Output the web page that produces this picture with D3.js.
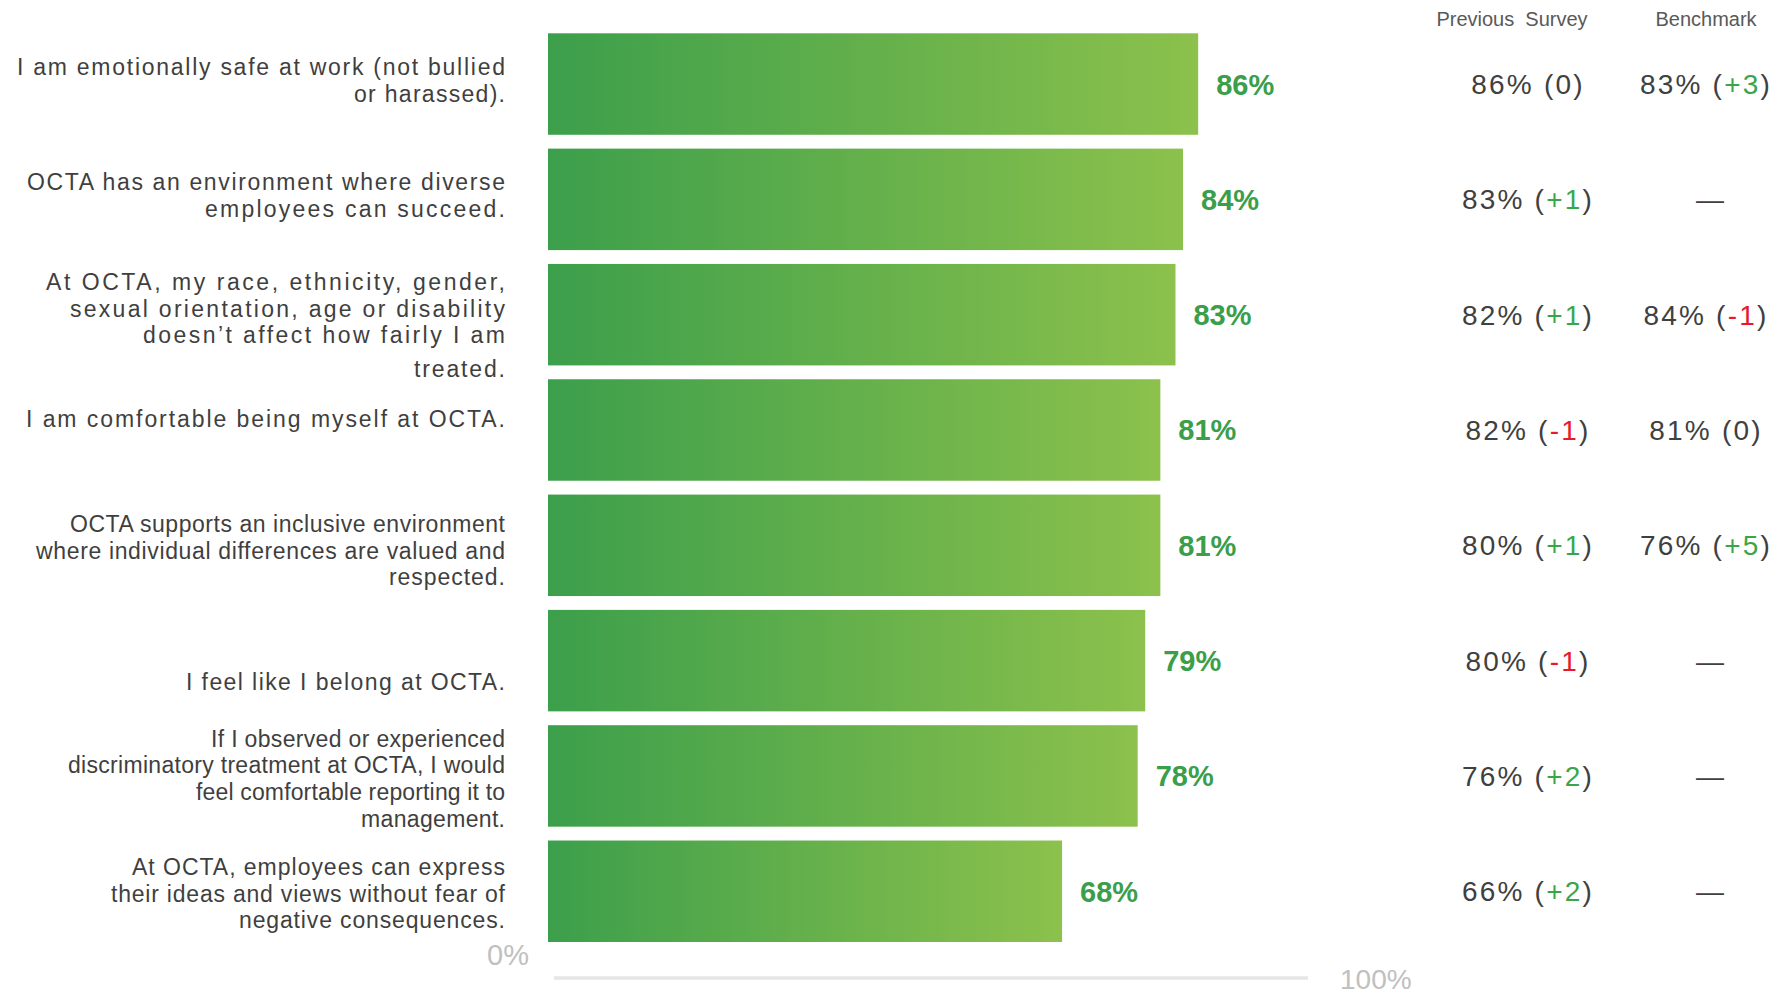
<!DOCTYPE html>
<html>
<head>
<meta charset="utf-8">
<script src="https://cdn.jsdelivr.net/npm/d3@7"></script>
<style>
  html, body { margin: 0; padding: 0; background: #ffffff; }
  svg { display: block; }
  text { font-family: "Liberation Sans", Arial, sans-serif; }
</style>
</head>
<body>
<svg id="chart" width="1776" height="994"></svg>
<script>
// ---------- data ----------
const categories = [
  ["I am emotionally safe at work (not bullied", "or harassed)."],
  ["OCTA has an environment where diverse", "employees can succeed."],
  ["At OCTA, my race, ethnicity, gender,", "sexual orientation, age or disability", "doesn\u2019t affect how fairly I am", "treated."],
  ["I am comfortable being myself at OCTA."],
  ["OCTA supports an inclusive environment", "where individual differences are valued and", "respected."],
  ["I feel like I belong at OCTA."],
  ["If I observed or experienced", "discriminatory treatment at OCTA, I would", "feel comfortable reporting it to", "management."],
  ["At OCTA, employees can express", "their ideas and views without fear of", "negative consequences."]
];
const scores      = [86, 84, 83, 81, 81, 79, 78, 68];
const prevScores  = [86, 83, 82, 82, 80, 80, 76, 66];
const prevDeltas  = ["0", "+1", "+1", "-1", "+1", "-1", "+2", "+2"];
const benchScores = [83, null, 84, 81, 76, null, null, null];
const benchDeltas = ["+3", null, "-1", "0", "+5", null, null, null];
const columnHeaders = ["Previous  Survey", "Benchmark"];
const axisTickLabels = ["0%", "100%"];

// ---------- layout (not data) ----------
const labelRight = 505;
const lineLefts = [
  [17, 354], [27, 205], [46, 70, 143, 414], [26],
  [70, 36, 389], [186], [211, 68, 196, 361], [132, 111, 239]
];
const labelShift = [-9, -9.4, -24.7, -3.3, -13.5, 29.5, -29.2, -16.2];
const lineGap = 26.7;
const extraGap = [[0,0], [0,0], [0,0,0,6.7], [0], [0,0,0], [0], [0,0,0,0], [0,0,0]];

const svg = d3.select("#chart");
const idx = d3.range(categories.length);

const x = d3.scaleLinear().domain([0, 100]).range([548, 1304]);
const y = d3.scaleBand().domain(idx).range([33.3, 942]).paddingInner(0.12).paddingOuter(0);
const cy = i => y(i) + y.bandwidth() / 2;

// gradient
const defs = svg.append("defs");
const grad = defs.append("linearGradient").attr("id", "barGrad")
  .attr("x1", "0%").attr("x2", "100%").attr("y1", "0%").attr("y2", "0%");
grad.append("stop").attr("offset", "0%").attr("stop-color", "#3c9f4b");
grad.append("stop").attr("offset", "100%").attr("stop-color", "#8cc14c");

// bars
svg.append("g").selectAll("rect").data(idx).join("rect")
  .attr("x", x(0))
  .attr("y", i => y(i))
  .attr("width", i => x(scores[i]) - x(0))
  .attr("height", y.bandwidth())
  .attr("fill", "url(#barGrad)");

// bar value labels
svg.append("g").selectAll("text").data(idx).join("text")
  .attr("x", i => x(scores[i]) + 18)
  .attr("y", i => cy(i) + 10.5)
  .attr("font-size", 29)
  .attr("font-weight", "bold")
  .attr("fill", "#3a9e4a")
  .text(i => scores[i] + "%");

// left category labels
const lab = svg.append("g").attr("fill", "#3f3f3f").attr("font-size", 23);
idx.forEach(i => {
  let base = cy(i) + labelShift[i];
  categories[i].forEach((line, j) => {
    const yy = base + j * lineGap + extraGap[i][j];
    const left = lineLefts[i][j];
    lab.append("text")
      .attr("x", labelRight)
      .attr("y", yy)
      .attr("text-anchor", "end")
      .attr("textLength", labelRight - left)
      .attr("lengthAdjust", "spacing")
      .text(line);
  });
});

// column headers
const headerX = [1512, 1706];
svg.append("g").selectAll("text").data(columnHeaders).join("text")
  .attr("x", (d, k) => headerX[k])
  .attr("y", 26)
  .attr("text-anchor", "middle")
  .attr("font-size", 20)
  .attr("fill", "#595959")
  .style("white-space", "pre")
  .text(d => d);

function deltaColor(d) {
  if (d.startsWith("+")) return "#3aa64a";
  if (d.startsWith("-")) return "#e8192c";
  return "#404040";
}

function drawCol(vals, deltas, cx) {
  const g = svg.append("g");
  idx.forEach(i => {
    const t = g.append("text")
      .attr("x", cx)
      .attr("y", cy(i) + 10)
      .attr("text-anchor", "middle")
      .attr("font-size", 28)
      .attr("letter-spacing", 2.2)
      .attr("fill", "#404040");
    if (vals[i] == null) {
      t.attr("letter-spacing", 0).attr("x", cx + 4).text("\u2014");
    } else {
      t.append("tspan").text(vals[i] + "% (");
      t.append("tspan").attr("fill", deltaColor(deltas[i])).text(deltas[i]);
      t.append("tspan").text(")");
    }
  });
}
drawCol(prevScores, prevDeltas, 1528);
drawCol(benchScores, benchDeltas, 1706);

// axis line and end labels
svg.append("line")
  .attr("x1", x(0) + 6).attr("x2", x(100) + 4)
  .attr("y1", 978).attr("y2", 978)
  .attr("stroke", "#e6e6e6").attr("stroke-width", 3.5);

svg.append("text")
  .attr("x", x(0) - 19).attr("y", 965)
  .attr("text-anchor", "end")
  .attr("font-size", 29).attr("fill", "#c0c0c0")
  .text(axisTickLabels[0]);
svg.append("text")
  .attr("x", x(100) + 36).attr("y", 989)
  .attr("text-anchor", "start")
  .attr("font-size", 28).attr("fill", "#c0c0c0")
  .text(axisTickLabels[1]);
</script>
</body>
</html>
